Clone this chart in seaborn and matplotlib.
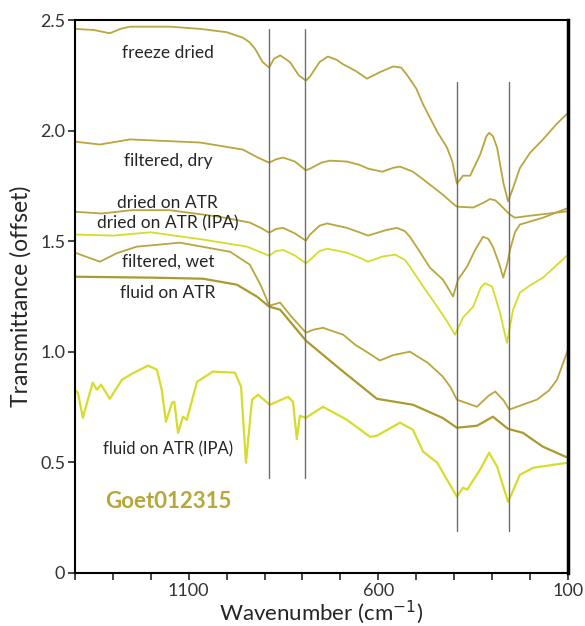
import matplotlib
matplotlib.use("Agg")

import matplotlib.pyplot as plt
import numpy as np
import pandas as pd
import seaborn as sns
from matplotlib.ticker import MultipleLocator


# wavenumber / offset transmittance
freeze_dried_x = [1400, 1350, 1308, 1280, 1255, 1150, 1070, 1000, 957, 940, 925, 905, 888, 875,
                  859, 833, 810, 791, 780, 755, 733, 710, 693, 660, 630, 595, 561, 540, 525,
                  500, 482, 445, 419, 405, 393, 377, 358, 332, 315, 308, 298, 287, 270, 258, 245,
                  227, 200, 166, 130, 100]
freeze_dried_y = [2.46, 2.455, 2.44, 2.46, 2.47, 2.47, 2.46, 2.445, 2.42, 2.40, 2.37, 2.31, 2.285,
                  2.325, 2.34, 2.31, 2.25, 2.226, 2.245, 2.31, 2.335, 2.32, 2.30, 2.27, 2.235,
                  2.265, 2.29, 2.285, 2.253, 2.19, 2.118, 1.995, 1.923, 1.86, 1.76, 1.796, 1.796,
                  1.89, 1.975, 1.99, 1.975, 1.923, 1.76, 1.68, 1.74, 1.83, 1.90, 1.96, 2.03,
                  2.08]

filtered_dry_x = [1400, 1334, 1255, 1070, 957, 920, 888, 870, 851, 820, 791, 780, 750, 728, 683,
                  650, 627, 590, 560, 543, 510, 490, 460, 430, 405, 393, 350, 325, 306, 292, 279,
                  265, 253, 240, 200, 150, 100]
filtered_dry_y = [1.95, 1.937, 1.96, 1.946, 1.914, 1.88, 1.855, 1.87, 1.878, 1.86, 1.82, 1.828,
                  1.855, 1.864, 1.86, 1.845, 1.828, 1.814, 1.832, 1.837, 1.815, 1.79, 1.75, 1.71,
                  1.672, 1.656, 1.652, 1.672, 1.69, 1.685, 1.665, 1.64, 1.62, 1.606, 1.615,
                  1.625, 1.635]

dried_atr_x = [1400, 1330, 1250, 1150, 1018, 939, 910, 888, 870, 851, 820, 791, 780, 755, 735,
               683, 650, 627, 580, 551, 530, 517, 490, 464, 430, 410, 403, 390, 366, 345, 324,
               310, 298, 280, 271, 260, 253, 240, 227, 166, 100]
dried_atr_y = [1.633, 1.625, 1.64, 1.64, 1.61, 1.584, 1.56, 1.538, 1.555, 1.56, 1.535, 1.502,
               1.53, 1.57, 1.58, 1.56, 1.54, 1.525, 1.55, 1.56, 1.545, 1.52, 1.45, 1.38, 1.326,
               1.27, 1.25, 1.326, 1.385, 1.46, 1.52, 1.51, 1.475, 1.39, 1.335, 1.40, 1.46,
               1.54, 1.575, 1.606, 1.65]

dried_atr_ipa_x = [1400, 1300, 1200, 1062, 946, 910, 888, 870, 851, 820, 791, 780, 755, 735, 683,
                   650, 627, 590, 556, 530, 517, 480, 445, 420, 398, 377, 350, 330, 319, 300, 280,
                   261, 245, 227, 200, 166, 100]
dried_atr_ipa_y = [1.53, 1.525, 1.54, 1.507, 1.475, 1.45, 1.434, 1.455, 1.46, 1.435, 1.40, 1.416,
                   1.455, 1.466, 1.448, 1.425, 1.407, 1.43, 1.439, 1.415, 1.385, 1.29, 1.204,
                   1.14, 1.077, 1.154, 1.204, 1.29, 1.31, 1.294, 1.18, 1.04, 1.19, 1.267, 1.30,
                   1.335, 1.439]

filtered_wet_x = [1400, 1334, 1290, 1237, 1123, 991, 939, 910, 894, 888, 859, 830, 791, 770, 746,
                  693, 660, 627, 596, 560, 517, 470, 430, 410, 393, 340, 310, 292, 270, 255, 220,
                  182, 150, 129, 100]
filtered_wet_y = [1.448, 1.407, 1.445, 1.475, 1.493, 1.452, 1.394, 1.30, 1.235, 1.208, 1.222,
                  1.16, 1.086, 1.10, 1.108, 1.077, 1.03, 0.995, 0.96, 0.985, 1.0, 0.95, 0.887,
                  0.84, 0.783, 0.751, 0.80, 0.82, 0.78, 0.738, 0.76, 0.783, 0.825, 0.873, 1.01]

fluid_atr_x = [1400, 1200, 1062, 973, 920, 888, 859, 791, 700, 604, 509, 430, 393, 340, 298, 258,
               219, 166, 100]
fluid_atr_y = [1.339, 1.335, 1.33, 1.303, 1.249, 1.204, 1.19, 1.05, 0.92, 0.787, 0.76, 0.70,
               0.656, 0.665, 0.706, 0.651, 0.633, 0.57, 0.52]

fluid_atr_ipa_x = [1400, 1392, 1379, 1371, 1353, 1342, 1331, 1308, 1276, 1250, 1207, 1184, 1171,
                   1160, 1144, 1138, 1128, 1115, 1105, 1078, 1036, 978, 962, 949, 933, 917, 886,
                   838, 825, 815, 807, 791, 746, 683, 622, 604, 543, 509, 482, 445, 393, 377, 366,
                   332, 308, 287, 258, 227, 192, 100]
fluid_atr_ipa_y = [0.828, 0.814, 0.701, 0.751, 0.86, 0.828, 0.851, 0.787, 0.873, 0.90, 0.937,
                   0.919, 0.828, 0.683, 0.769, 0.774, 0.633, 0.706, 0.692, 0.864, 0.91, 0.905,
                   0.842, 0.498, 0.783, 0.805, 0.76, 0.796, 0.774, 0.605, 0.71, 0.701, 0.751,
                   0.692, 0.615, 0.62, 0.679, 0.647, 0.548, 0.498, 0.344, 0.385, 0.376, 0.466,
                   0.543, 0.48, 0.321, 0.443, 0.475, 0.498]

band_positions = [888, 793, 393, 255]
band_tops = [2.46, 2.46, 2.22, 2.22]
band_bottoms = [0.43, 0.43, 0.19, 0.19]

GOLD = "#b8a63e"
DARK_GOLD = "#ab9a2e"
YELLOW = "#d6dc2c"

series = [
    ("freeze dried", freeze_dried_x, freeze_dried_y, GOLD, 1.3),
    ("filtered, dry", filtered_dry_x, filtered_dry_y, GOLD, 1.3),
    ("dried on ATR", dried_atr_x, dried_atr_y, GOLD, 1.3),
    ("dried on ATR (IPA)", dried_atr_ipa_x, dried_atr_ipa_y, YELLOW, 1.3),
    ("filtered, wet", filtered_wet_x, filtered_wet_y, GOLD, 1.3),
    ("fluid on ATR", fluid_atr_x, fluid_atr_y, DARK_GOLD, 1.6),
    ("fluid on ATR (IPA)", fluid_atr_ipa_x, fluid_atr_ipa_y, YELLOW, 1.6),
]

# label positions (offset value) for the curve names, all centred at 1155 cm-1
label_positions = {
    "freeze dried": 2.353,
    "filtered, dry": 1.864,
    "dried on ATR": 1.674,
    "dried on ATR (IPA)": 1.579,
    "filtered, wet": 1.407,
    "fluid on ATR": 1.267,
    "fluid on ATR (IPA)": 0.557,
}


def main():
    sns.set_style("ticks")
    plt.rcParams["font.family"] = ["Lato", "DejaVu Sans"]

    fig = plt.figure(figsize=(5.85, 6.26), dpi=100)
    ax = fig.add_axes([0.128, 0.085, 0.843, 0.883])

    for name, xs, ys, color, lw in series:
        df = pd.DataFrame({"wavenumber": xs, "T": ys})
        sns.lineplot(data=df, x="wavenumber", y="T", ax=ax, color=color,
                     linewidth=lw, sort=False, estimator=None)

    for xb, top, bot in zip(band_positions, band_tops, band_bottoms):
        ax.plot([xb, xb], [bot, top], color="#6e6e6e", linewidth=1.0, zorder=5)

    for name, ypos in label_positions.items():
        size = 12.5 if name != "fluid on ATR (IPA)" else 12
        ax.text(1155, ypos, name, ha="center", va="center", fontsize=size, color="#262626")

    ax.text(1155, 0.321, "Goet012315", ha="center", va="center", fontsize=16,
            fontweight="bold", color="#b5a838")

    ax.set_xlim(1400, 100)
    ax.set_ylim(0, 2.5)
    ax.set_xticks([1100, 600, 100])
    ax.xaxis.set_minor_locator(MultipleLocator(100))
    ax.set_yticks([0, 0.5, 1.0, 1.5, 2.0, 2.5])
    ax.set_yticklabels(["0", "0.5", "1.0", "1.5", "2.0", "2.5"])
    ax.tick_params(axis="both", which="major", labelsize=13, labelcolor="#333333",
                   length=5, width=1.2, direction="out", pad=2)
    ax.tick_params(axis="x", which="minor", length=5, width=1.2, direction="out")

    ax.set_xlabel("Wavenumber (cm$^{-1}$)", fontsize=16, color="#262626", labelpad=0)
    ax.set_ylabel("Transmittance (offset)", fontsize=16.5, color="#262626", labelpad=6)

    for side in ["left", "bottom", "top", "right"]:
        ax.spines[side].set_visible(True)
        ax.spines[side].set_color("black")
        ax.spines[side].set_linewidth(1.5)
    ax.spines["right"].set_linewidth(2.5)

    fig.savefig("out.png", dpi=100)
    plt.close(fig)


if __name__ == "__main__":
    main()
